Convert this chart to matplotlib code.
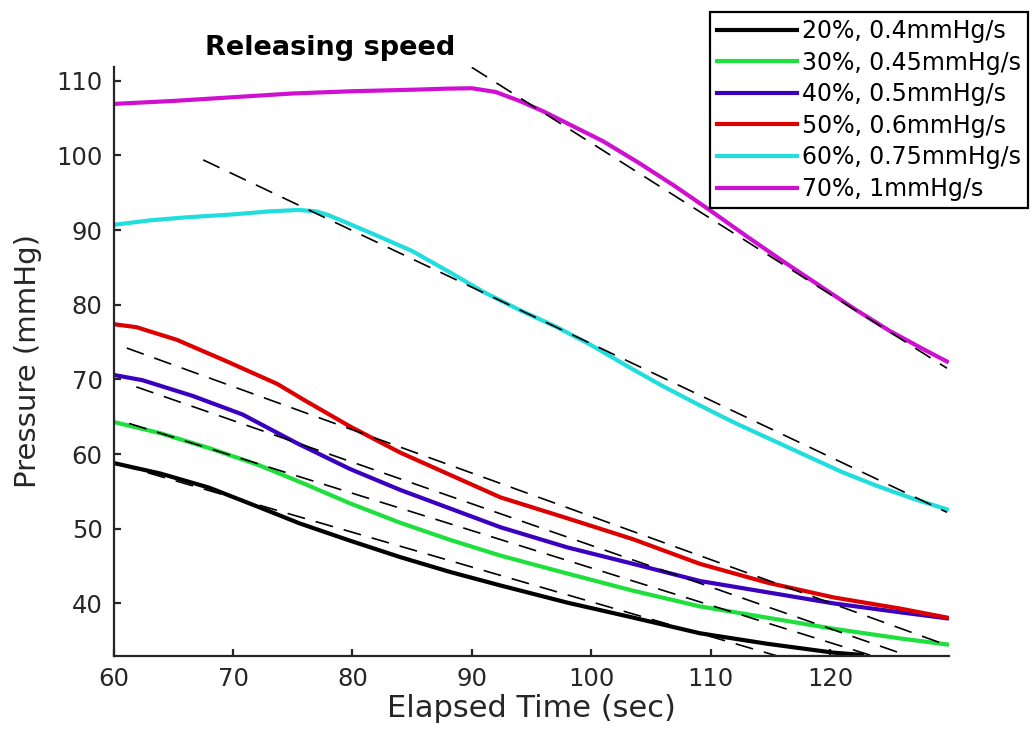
import matplotlib.pyplot as plt

plt.rcParams['font.family'] = 'DejaVu Sans'
plt.rcParams['lines.scale_dashes'] = False

# Measured pressure curves (time in sec, pressure in mmHg)
t_20 = [60, 63.9, 68.0, 72.0, 75.6, 79.8, 84.0, 88.2, 92.4, 98.0, 103.5, 109.1, 114.7, 120.3, 122.7]
p_20 = [58.8, 57.4, 55.5, 53.0, 50.7, 48.4, 46.2, 44.2, 42.4, 40.1, 38.1, 36.0, 34.6, 33.4, 33.1]

t_30 = [60, 63.9, 68.0, 72.2, 76.0, 79.8, 84.0, 88.2, 92.4, 98.0, 103.5, 109.1, 114.7, 120.3, 125.9, 129.8]
p_30 = [64.3, 62.8, 60.8, 58.5, 56.0, 53.4, 50.8, 48.5, 46.4, 44.0, 41.7, 39.6, 38.1, 36.6, 35.3, 34.5]

t_40 = [60, 62.4, 66.6, 70.8, 75.3, 79.8, 84.0, 88.2, 92.4, 98.0, 103.5, 109.1, 114.7, 120.3, 125.9, 129.8]
p_40 = [70.6, 69.9, 67.8, 65.3, 61.5, 58.0, 55.2, 52.7, 50.2, 47.5, 45.3, 43.0, 41.5, 40.0, 38.8, 38.0]

t_50 = [60, 61.9, 65.3, 69.5, 73.7, 76.0, 79.8, 84.0, 88.2, 92.4, 98.0, 103.5, 109.1, 114.7, 120.3, 125.9, 129.8]
p_50 = [77.4, 77.0, 75.3, 72.4, 69.4, 67.2, 63.7, 60.2, 57.2, 54.2, 51.4, 48.6, 45.3, 42.8, 40.8, 39.3, 38.1]

t_60 = [60, 63, 66, 70, 73, 75.5, 77, 78, 79.5, 82, 85, 88, 91, 94, 97, 100, 103, 106, 109, 112, 115, 118, 121, 124,
        127, 129.8]
p_60 = [90.7, 91.3, 91.7, 92.1, 92.5, 92.7, 92.5, 92.0, 91.0, 89.3, 87.2, 84.5, 81.7, 79.3, 77.1, 74.6, 71.8, 69.1,
        66.6, 64.2, 62.0, 59.8, 57.6, 55.7, 54.0, 52.6]

t_70 = [60, 65, 70, 75, 80, 85, 88, 90, 92, 94, 96, 98, 101, 104, 107, 110, 113, 116, 119, 122, 125, 128, 129.8]
p_70 = [106.9, 107.3, 107.8, 108.3, 108.6, 108.8, 108.95, 109.0, 108.5, 107.3, 105.9, 104.3, 101.9, 99.0, 95.9,
        92.6, 89.2, 85.9, 82.7, 79.5, 76.5, 73.9, 72.4]

# Linear fits (start and end points) drawn as dashed lines
fit_t = [[60.5, 115.5], [61.3, 123.5], [61.9, 126.5], [61.1, 129.8], [67.5, 129.8], [90.0, 129.8]]
fit_p = [[58.6, 33.0], [64.1, 33.0], [69.0, 33.0], [74.2, 34.4], [99.4, 52.2], [111.8, 71.5]]

labels = ['20%, 0.4mmHg/s', '30%, 0.45mmHg/s', '40%, 0.5mmHg/s',
          '50%, 0.6mmHg/s', '60%, 0.75mmHg/s', '70%, 1mmHg/s']
colors = ['#000000', '#1ee03c', '#3a00c0', '#dd0000', '#22dddd', '#d010d0']

times = [t_20, t_30, t_40, t_50, t_60, t_70]
pressures = [p_20, p_30, p_40, p_50, p_60, p_70]

fig = plt.figure(figsize=(10.33, 7.4), dpi=100)
ax = fig.add_axes([0.110, 0.114, 0.809, 0.795])

handles = []
for t, p, c, lab in zip(times, pressures, colors, labels):
    h, = ax.plot(t, p, color=c, linewidth=3.0, label=lab, solid_joinstyle='round')
    handles.append(h)

for ft, fp in zip(fit_t, fit_p):
    ax.plot(ft, fp, color='black', linewidth=1.2, linestyle=(0, (13, 8)))

ax.set_xlim(60, 130)
ax.set_ylim(33, 111.8)
ax.set_xticks(range(60, 121, 10))
ax.set_yticks(range(40, 111, 10))

for side in ['top', 'right']:
    ax.spines[side].set_visible(False)
for side in ['left', 'bottom']:
    ax.spines[side].set_linewidth(1.6)
    ax.spines[side].set_color('#262626')
ax.tick_params(direction='in', length=5, width=1.6, colors='#262626', labelsize=17.5, pad=8)

ax.set_xlabel('Elapsed Time (sec)', fontsize=22, color='#262626', labelpad=2)
ax.set_ylabel('Pressure (mmHg)', fontsize=21, color='#262626', labelpad=10)

fig.text(330 / 1033, 1 - 48 / 740, 'Releasing speed', fontsize=19.5, fontweight='bold',
         ha='center', va='center')

leg = fig.legend(handles=handles, loc='upper right', bbox_to_anchor=(1028 / 1033, 1 - 12 / 740),
                 fontsize=17, frameon=True, fancybox=False, framealpha=1, edgecolor='black',
                 handlelength=3.4, handletextpad=0.2, labelspacing=0.32, borderpad=0.3,
                 borderaxespad=0)
leg.get_frame().set_linewidth(1.6)

fig.savefig('out.png', dpi=100)
